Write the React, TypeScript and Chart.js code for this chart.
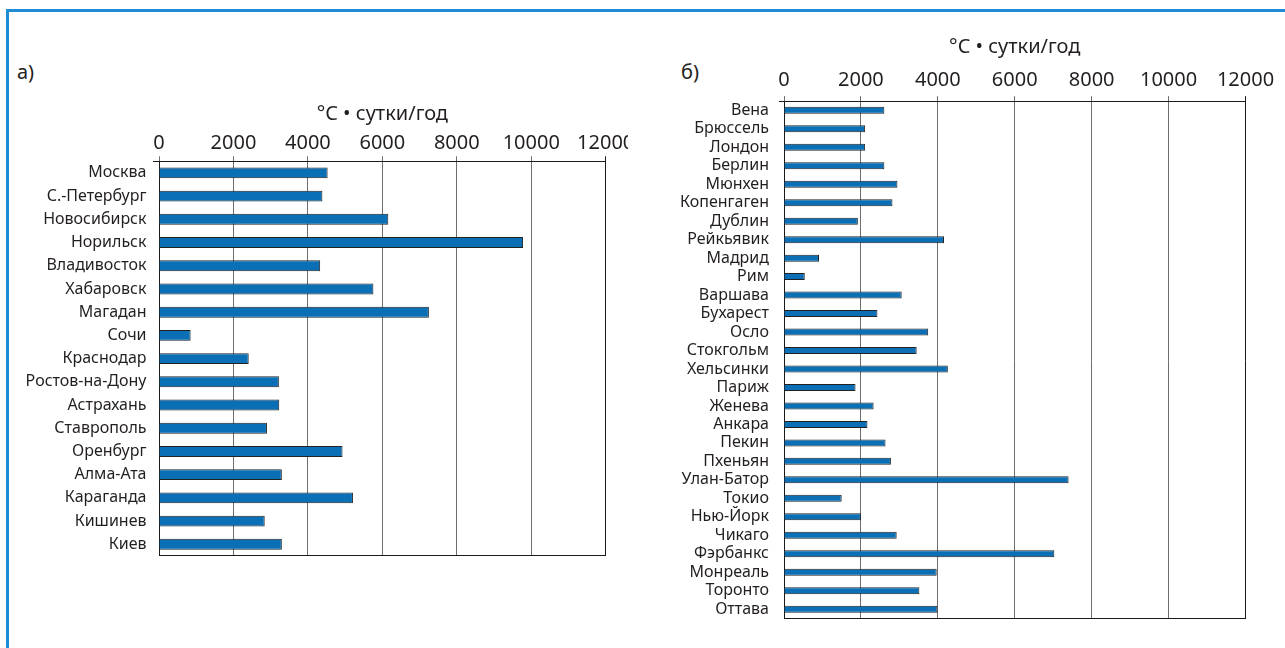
import React, { useEffect, useRef } from "react";
import { Chart, registerables } from "chart.js";

Chart.register(...registerables);

const FONT = "'Noto Sans', 'DejaVu Sans', sans-serif";
const TEXT = "#231f20";
const DARK = "#1a1a1a";
const GRID = "#6e6e6e";
const BAR = "#0b6fb6";
const FRAME = "#1f8dd6";

const AXIS_TITLE = "°C • сутки/год";
const X_MIN = 0;
const X_MAX = 12000;
const X_STEP = 2000;

const citiesA = [
  "Москва", "С.-Петербург", "Новосибирск", "Норильск", "Владивосток", "Хабаровск",
  "Магадан", "Сочи", "Краснодар", "Ростов-на-Дону", "Астрахань", "Ставрополь",
  "Оренбург", "Алма-Ата", "Караганда", "Кишинев", "Киев",
];
const valuesA = [
  4530, 4390, 6160, 9780, 4330, 5760, 7250, 850, 2410, 3220, 3230, 2900,
  4930, 3300, 5210, 2840, 3300,
];

const citiesB = [
  "Вена", "Брюссель", "Лондон", "Берлин", "Мюнхен", "Копенгаген", "Дублин",
  "Рейкьявик", "Мадрид", "Рим", "Варшава", "Бухарест", "Осло", "Стокгольм",
  "Хельсинки", "Париж", "Женева", "Анкара", "Пекин", "Пхеньян", "Улан-Батор",
  "Токио", "Нью-Йорк", "Чикаго", "Фэрбанкс", "Монреаль", "Торонто", "Оттава",
];
const valuesB = [
  2610, 2110, 2110, 2610, 2950, 2820, 1920, 4160, 910, 540, 3060, 2430,
  3750, 3450, 4260, 1860, 2330, 2170, 2640, 2780, 7400, 1500, 2000, 2930,
  7030, 3970, 3520, 3990,
];

type Cfg = {
  labels: string[];
  values: number[];
  yWidth: number;
  pad: { top: number; right: number; bottom: number; left: number };
  barPct: number;
  tickPad: number;
  yTickLen: number;
  yLabelPad: number;
  titlePadBottom: number;
};

function BarPanel(props: { cfg: Cfg; left: number; top: number; width: number; height: number }) {
  const ref = useRef<HTMLCanvasElement | null>(null);
  const { cfg, left, top, width, height } = props;
  useEffect(() => {
    if (!ref.current) return;
    const n = cfg.labels.length;
    const chart = new Chart(ref.current, {
      type: "bar",
      data: {
        labels: cfg.labels,
        datasets: [
          {
            data: cfg.values,
            backgroundColor: BAR,
            borderColor: "#222222",
            borderWidth: 1,
            barPercentage: cfg.barPct,
            categoryPercentage: 1,
            xAxisID: "x",
            yAxisID: "y",
          },
        ],
      },
      options: {
        indexAxis: "y",
        responsive: false,
        animation: false,
        devicePixelRatio: 1,
        layout: { padding: cfg.pad },
        plugins: { legend: { display: false }, tooltip: { enabled: false }, title: { display: false } },
        scales: {
          x: {
            type: "linear",
            axis: "x",
            position: "top",
            min: X_MIN,
            max: X_MAX,
            ticks: {
              stepSize: X_STEP,
              autoSkip: false,
              maxRotation: 0,
              padding: cfg.tickPad,
              color: TEXT,
              font: { family: FONT, size: 20 },
              callback: (v: any) => String(v),
            },
            grid: {
              color: (ctx: any) => (ctx.tick && ctx.tick.value === X_MAX ? DARK : GRID),
              lineWidth: 1,
              drawTicks: true,
              tickLength: 5,
            },
            border: { display: true, color: DARK, width: 1 },
            title: {
              display: true,
              text: AXIS_TITLE,
              color: TEXT,
              font: { family: FONT, size: 20 },
              padding: { top: 0, bottom: cfg.titlePadBottom },
            },
            afterFit: (s: any) => {
              s.paddingLeft = 0;
              s.paddingRight = 0;
            },
          },
          xb: {
            type: "linear",
            axis: "x",
            position: "bottom",
            min: X_MIN,
            max: X_MAX,
            ticks: { display: false },
            grid: { display: false },
            border: { display: true, color: DARK, width: 1 },
          },
          y: {
            type: "category",
            position: "left",
            grid: {
              offset: true,
              drawOnChartArea: false,
              drawTicks: true,
              tickLength: cfg.yTickLen,
              color: (ctx: any) => (ctx.index === 0 || ctx.index === n ? DARK : "rgba(0,0,0,0)"),
            },
            border: { display: true, color: DARK, width: 1 },
            ticks: {
              autoSkip: false,
              padding: cfg.yLabelPad,
              color: TEXT,
              font: { family: FONT, size: 16 },
            },
            afterFit: (s: any) => {
              s.width = cfg.yWidth;
            },
          },
        },
      },
    } as any);
    return () => chart.destroy();
  }, []);
  return (
    <canvas
      ref={ref}
      width={width}
      height={height}
      style={{ position: "absolute", left, top, width, height }}
    />
  );
}

const cfgA: Cfg = {
  labels: citiesA,
  values: valuesA,
  yWidth: 159,
  pad: { top: 12, right: 22.3, bottom: 3.7, left: 0 },
  barPct: 0.47,
  tickPad: 0.8,
  yTickLen: 6,
  yLabelPad: 6.5,
  titlePadBottom: 4.7,
};

const cfgB: Cfg = {
  labels: citiesB,
  values: valuesB,
  yWidth: 124,
  pad: { top: 5, right: 39.5, bottom: 4.7, left: 0 },
  barPct: 0.38,
  tickPad: 3.4,
  yTickLen: 5,
  yLabelPad: 10,
  titlePadBottom: 6.3,
};

export default function App() {
  useEffect(() => {
    document.body.style.overflow = "hidden";
  }, []);
  return (
    <div
      style={{
        position: "absolute",
        left: 0,
        top: 0,
        width: 1285,
        height: 648,
        background: "#ffffff",
        overflow: "hidden",
        fontFamily: FONT,
      }}
    >
      <div
        style={{
          position: "absolute",
          left: 6,
          top: 9,
          width: 1279,
          height: 639,
          boxSizing: "border-box",
          borderTop: `3px solid ${FRAME}`,
          borderLeft: `3px solid ${FRAME}`,
        }}
      />
      <div style={{ position: "absolute", left: 17, top: 58, fontSize: 20, lineHeight: "28px", color: TEXT }}>а)</div>
      <div style={{ position: "absolute", left: 681, top: 58, fontSize: 20, lineHeight: "28px", color: TEXT }}>б)</div>
      <BarPanel cfg={cfgA} left={0} top={90} width={628} height={482} />
      <BarPanel cfg={cfgB} left={660} top={30} width={625} height={608} />
    </div>
  );
}
